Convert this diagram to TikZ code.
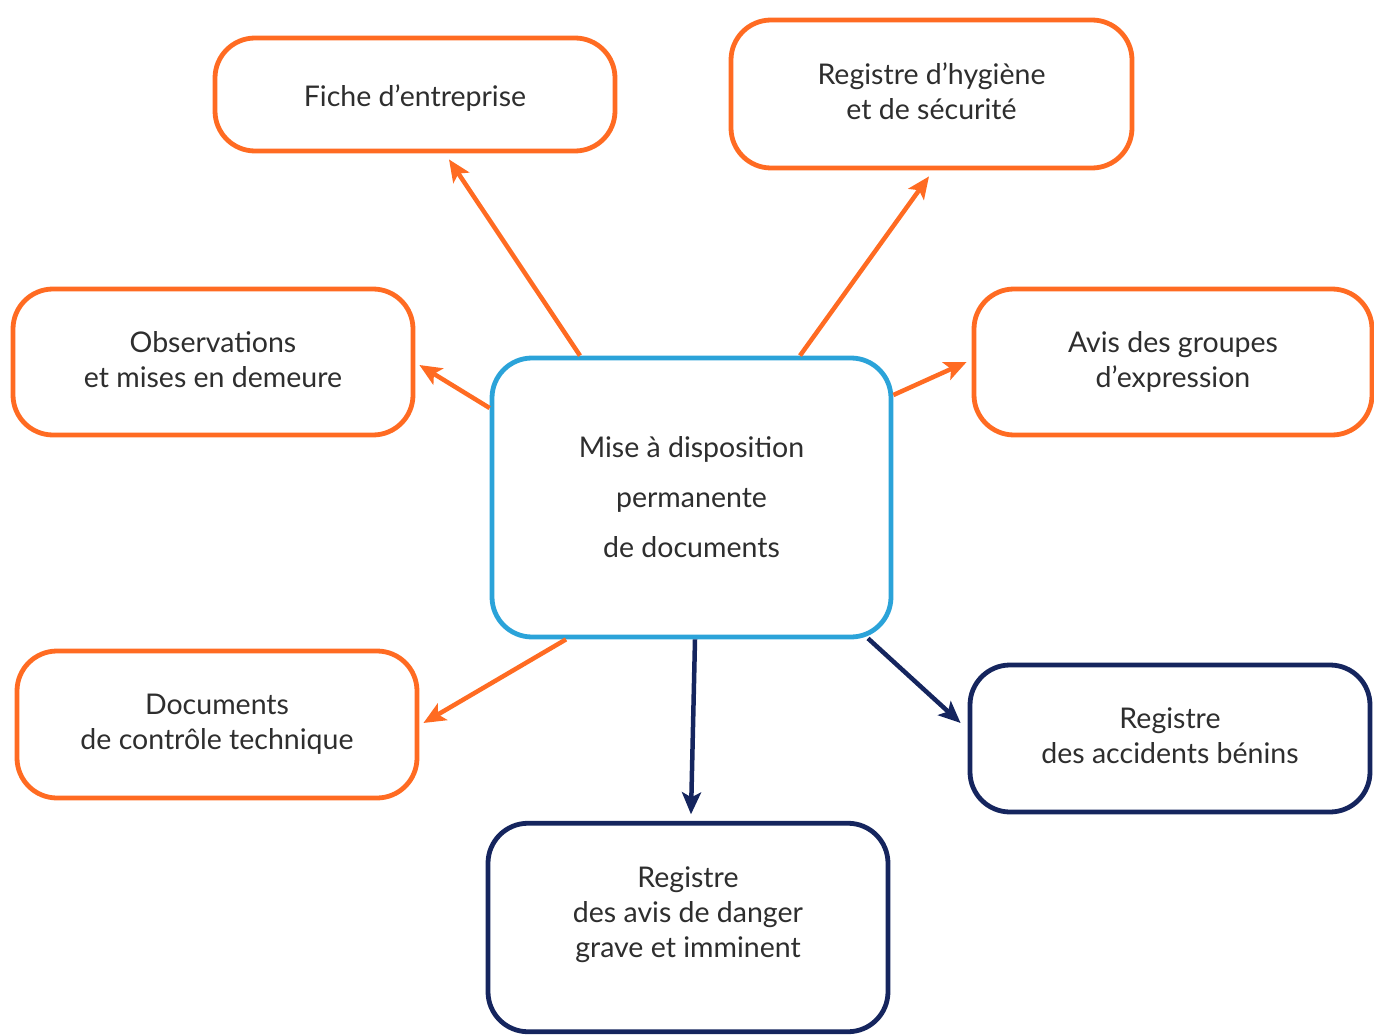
\documentclass[tikz,border=0pt]{standalone}
\usepackage{fontspec}
\setmainfont{Lato}
\usetikzlibrary{arrows.meta}
\definecolor{orangeline}{HTML}{FF6B22}
\definecolor{blueline}{HTML}{2BA3D9}
\definecolor{navyline}{HTML}{15255E}
\definecolor{textgrey}{HTML}{2E2E2E}
\newcommand{\shiftedlines}[2]{\raisebox{#1}[\height][\depth]{\begin{tabular}{@{}c@{}}#2\end{tabular}}}
\begin{document}
\begin{tikzpicture}[x=1pt,y=-1pt,
  box/.style={draw, line width=4.8pt, rounded corners=40pt, fill=white,
    text=textgrey, align=center, minimum width=400pt, inner sep=0pt,
    font=\fontsize{28.5}{35}\selectfont},
  orangebox/.style={box, draw=orangeline},
  navybox/.style={box, draw=navyline},
  link/.style={line width=4.5pt, -{Stealth[length=22pt,width=19pt,inset=5pt]}},
  orangelink/.style={link, draw=orangeline, fill=orangeline},
  navylink/.style={link, draw=navyline, fill=navyline}]
\useasboundingbox (0,0) rectangle (1374,1035);

% central node
\node[box, draw=blueline, minimum width=399pt, minimum height=279pt,
  font=\fontsize{28.5}{50}\selectfont] (c) at (691.5,497.5)
  {Mise à disposition\\permanente\\de documents};

% surrounding documents
\node[orangebox, minimum height=113pt] (fiche) at (415,94.5)
  {\raisebox{-4pt}[\height][\depth]{Fiche d’entreprise}};
\node[orangebox, minimum width=401pt, minimum height=148pt] (hyg) at (931.5,94)
  {\shiftedlines{-1pt}{Registre d’hygiène\\et de sécurité}};
\node[orangebox, minimum height=146pt] (obs) at (213,362)
  {\shiftedlines{-1pt}{Observations\\et mises en demeure}};
\node[orangebox, minimum width=398pt, minimum height=146pt] (avis) at (1173,362)
  {Avis des groupes\\d’expression};
\node[orangebox, minimum height=147pt] (doc) at (217,724.5)
  {Documents\\de contrôle technique};
\node[navybox, minimum height=147pt] (acc) at (1170,738.5)
  {\shiftedlines{0pt}{Registre\\des accidents bénins}};
\node[navybox, minimum height=208.5pt] (dang) at (688,927.5)
  {\shiftedlines{12pt}{Registre\\des avis de danger\\grave et imminent}};

% connectors
\draw[orangelink] ([xshift=-111.5pt]c.north) -- ([xshift=34pt,yshift=-6pt]fiche.south);
\draw[orangelink] ([xshift=108.5pt]c.north) -- ([xshift=-2.5pt,yshift=-6pt]hyg.south);
\draw[orangelink] ([yshift=89.5pt]c.west) -- ([xshift=4pt,yshift=-3pt]obs.east);
\draw[orangelink] ([yshift=102.5pt]c.east) -- ([xshift=-5pt]avis.west);
\draw[orangelink] ([xshift=-125.5pt]c.south) -- ([xshift=4pt,yshift=1.5pt]doc.east);
\draw[navylink] ([xshift=3.5pt]c.south) -- ([xshift=3pt,yshift=6.5pt]dang.north);
\draw[navylink] ([xshift=176.5pt,yshift=1pt]c.south) -- ([xshift=-7pt,yshift=15.5pt]acc.west);
\end{tikzpicture}
\end{document}
